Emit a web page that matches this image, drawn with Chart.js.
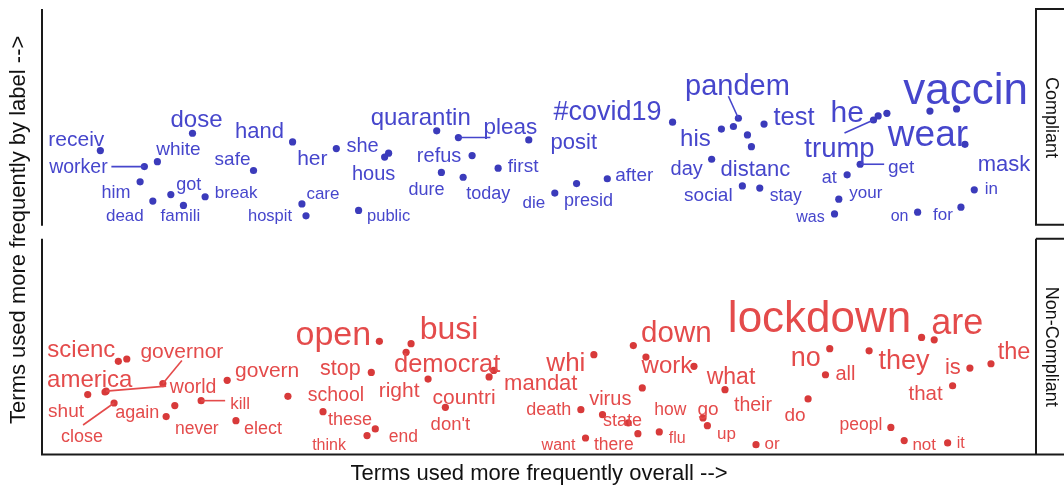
<!DOCTYPE html>
<html>
<head>
<meta charset="utf-8">
<script src="https://cdn.jsdelivr.net/npm/chart.js@4/dist/chart.umd.min.js"></script>
<style>
  html, body { margin: 0; padding: 0; background: #fff; }
</style>
</head>
<body>
<canvas id="termsChart" width="1064" height="487"></canvas>
<script>
// Terms and their positions (x: overall frequency, y: frequency by label)
const compliantTerms = ['receiv', 'worker', 'white', 'dose', 'him', 'got', 'break', 'dead', 'famili', 'safe',
  'hand', 'her', 'she', 'hous', 'care', 'hospit', 'public', 'quarantin', 'pleas', 'refus',
  'first', 'dure', 'today', 'posit', '#covid19', 'die', 'presid', 'after', 'pandem', 'his',
  '', '', 'distanc', 'test', 'day', 'social', 'stay', 'trump', 'he', '',
  'vaccin', 'wear', 'mask', 'get', 'at', 'your', 'was', 'on', 'for', 'in'];
const compliantX = [5.87, 10.30, 11.61, 15.14, 9.87, 12.96, 16.41, 11.15, 14.23, 21.28,
  25.21, 29.61, 34.87, 34.47, 26.15, 26.56, 31.85, 39.71, 41.89, 43.27,
  45.89, 40.18, 42.37, 48.97, 63.44, 51.59, 53.78, 56.87, 70.06, 68.35,
  69.56, 70.97, 71.37, 72.64, 67.37, 70.46, 72.21, 83.65, 84.12, 85.0,
  92.01, 89.33, 92.85, 82.31, 81.0, 80.16, 79.73, 88.09, 92.45, 93.79];
const compliantY = [34.7, 27.3, 29.6, 42.7, 20.3, 14.4, 13.4, 11.4, 9.4, 25.5,
  38.7, 35.6, 33.5, 31.7, 10.1, 4.6, 7.1, 43.8, 40.7, 32.4,
  26.6, 24.6, 22.4, 39.6, 47.8, 15.1, 19.5, 21.7, 49.6, 44.6,
  45.8, 41.9, 36.5, 46.9, 30.7, 18.4, 17.4, 48.8, 50.7, 51.9,
  53.9, 52.9, 37.6, 28.4, 23.5, 12.3, 5.5, 6.3, 8.6, 16.6];

const nonCompliantTerms = ['scienc', '', 'governor', 'america', 'world', 'shut', 'close', 'again', 'never', 'kill',
  'govern', 'elect', 'school', 'open', 'stop', 'these', 'think', 'end', 'busi', 'democrat',
  'right', 'countri', 'mandat', "don't", 'whi', 'down', 'work', 'their', 'virus', 'death',
  'state', 'how', 'want', 'there', 'flu', 'go', 'up', 'what', 'do', 'or',
  'lockdown', 'are', 'no', 'all', 'they', 'is', 'the', 'that', 'peopl', 'not', 'it'];
const nonCompliantX = [7.68, 8.53, 12.16, 4.60, 6.45, 6.34, 7.25, 12.49, 13.36, 16.01,
  18.63, 19.51, 24.74, 33.94, 33.13, 28.27, 32.70, 33.53, 37.13, 36.63,
  38.84, 44.98, 45.45, 40.58, 55.52, 59.49, 60.76, 65.59, 60.39, 54.21,
  56.39, 58.98, 54.68, 59.95, 62.10, 66.50, 66.94, 68.71, 77.07, 71.83,
  88.49, 89.76, 79.25, 78.82, 83.21, 93.35, 95.47, 91.61, 85.40, 86.74, 91.11];
const nonCompliantY = [43.2, 44.3, 32.9, 27.8, 29.4, 29.0, 23.9, 17.6, 22.7, 25.0,
  34.4, 15.7, 27.0, 52.5, 38.1, 19.9, 8.8, 11.9, 51.4, 47.4,
  35.0, 36.0, 39.0, 21.9, 46.3, 50.5, 45.2, 40.9, 30.9, 20.8,
  18.5, 14.7, 7.7, 9.7, 10.5, 17.0, 13.4, 30.1, 25.8, 4.6,
  54.3, 53.2, 49.1, 37.0, 48.1, 40.1, 42.1, 31.9, 12.6, 6.5, 5.4];

const panelNames = ['Compliant', 'Non-Compliant'];

// Label placement (repelled text): [dx, dy, font px, leader dx, leader dy]
const compliantLabelLayout = [
  [-24, -12, 21], [-66, 0, 19.5, -33, 0], [21, -13, 19], [4, -14, 24], [-24, 10, 18],
  [18, -11, 18], [31, -5, 17], [-28, 14, 17], [-3, 9, 17], [-21, -12, 19],
  [-33, -11, 22], [-24, 9, 21], [-26, -8, 20], [-11, 16, 20], [21, -11, 17],
  [-36, -1, 16.5], [30, 5, 16.5], [-16, -14, 24], [52, -11, 22.5, 32, 0], [-33, -1, 20],
  [25, -3, 19], [-15, 16, 18], [25, 15, 18], [45, 1, 22], [-65, -11, 27],
  [-21, 9, 17], [12, 16, 18], [27, -4, 19], [-1, -33, 29, -10, -22], [-26, 9, 24],
  [0, 0, 0], [0, 0, 0], [4, 22, 22], [30, -8, 25.5], [-25, 9, 20],
  [-34, 8, 19], [26, 7, 17.5], [-34, 28, 27.5, -29, 13], [-31, -4, 30], [0, 0, 0],
  [9, -19, 44], [-2, 23, 37], [39, 19, 22], [41, 2, 19, 24, 0], [-18, 2, 18],
  [27, -7, 17], [-24, 2, 16], [-18, 3, 16], [-18, 7, 17], [17, -2, 17]
];
const nonCompliantLabelLayout = [
  [-37, -12, 24], [0, 0, 0], [19, -33, 21, 19, -23], [2, -16, 24], [87, -5, 19.5, 60, -5],
  [-39, 18, 19], [-32, 33, 18, -31, 22], [-29, -5, 18], [22, 22, 17.5], [39, 2, 17, 24, 0],
  [40, -11, 21], [27, 7, 18], [48, -2, 19.5], [-46, -7, 34], [-31, -5, 21.5],
  [27, 7, 18], [-38, 8, 16], [28, 7, 17.5], [38, -15, 32], [41, 11, 25.5],
  [-29, 11, 21], [-25, 20, 21], [47, 12, 22], [5, 16, 18.5], [-28, 8, 26],
  [43, -13, 29.5], [21, 8, 24], [59, 38, 19.5], [-32, 10, 20], [-32, -1, 18],
  [20, 5, 18], [42, -14, 17.5], [-27, 6, 16], [-24, 10, 17.5], [18, 5, 16],
  [5, -10, 19], [19, 7, 17], [6, -13, 23], [-13, 15, 19], [16, -2, 17],
  [-102, -19, 44], [23, -17, 36], [-24, 8, 27], [20, -2, 20], [35, 9, 27],
  [-17, -2, 22], [23, -13, 23.5], [-27, 7, 20.5], [-30, -4, 17.5], [20, 3, 17], [13, -1, 16]
];

const FONT = '"Liberation Sans", Arial, Helvetica, sans-serif';
const blueText = '#4646cc', blueDot = '#3b3bbb';
const redText = '#e44b4b', redDot = '#d83a3a';

function toPoints(xs, ys) {
  return xs.map((x, i) => ({ x: x, y: ys[i] }));
}

// draws each term next to its point, with leader lines where the label was pushed away
const termLabels = {
  id: 'termLabels',
  afterDatasetsDraw(chart) {
    const ctx = chart.ctx;
    const sets = [
      { terms: compliantTerms, layout: compliantLabelLayout, color: blueText },
      { terms: nonCompliantTerms, layout: nonCompliantLabelLayout, color: redText }
    ];
    ctx.save();
    sets.forEach((s, di) => {
      const meta = chart.getDatasetMeta(di);
      meta.data.forEach((pt, i) => {
        const term = s.terms[i];
        if (!term) return;
        const l = s.layout[i];
        if (l.length > 3) {
          ctx.strokeStyle = s.color;
          ctx.lineWidth = 1.6;
          ctx.beginPath();
          ctx.moveTo(pt.x, pt.y);
          ctx.lineTo(pt.x + l[3], pt.y + l[4]);
          ctx.stroke();
        }
        ctx.fillStyle = s.color;
        ctx.font = l[2] + 'px ' + FONT;
        ctx.textAlign = 'center';
        ctx.textBaseline = 'middle';
        ctx.fillText(term, pt.x + l[0], pt.y + l[1] + 1.5);
      });
    });
    ctx.restore();
  },
  afterDraw(chart) {
    const ctx = chart.ctx;
    const top = chart.scales.yTop, bot = chart.scales.yBot;
    const left = chart.chartArea.left, right = chart.chartArea.right;
    ctx.save();
    ctx.strokeStyle = '#1a1a1a';
    ctx.lineWidth = 2;
    // top panel: left axis line only
    ctx.beginPath();
    ctx.moveTo(left, top.top);
    ctx.lineTo(left, top.bottom);
    ctx.stroke();
    // bottom panel: left, bottom, right
    ctx.beginPath();
    ctx.moveTo(left, bot.top);
    ctx.lineTo(left, bot.bottom);
    ctx.lineTo(chart.width, bot.bottom);
    ctx.moveTo(right, bot.top);
    ctx.lineTo(right, bot.bottom);
    ctx.stroke();
    // strip boxes
    ctx.beginPath();
    ctx.moveTo(chart.width + 2, top.top);
    ctx.lineTo(right, top.top);
    ctx.lineTo(right, top.bottom - 1);
    ctx.lineTo(chart.width + 2, top.bottom - 1);
    ctx.moveTo(chart.width + 2, bot.top);
    ctx.lineTo(right, bot.top);
    ctx.stroke();

    ctx.fillStyle = '#111';
    ctx.font = '18px ' + FONT;
    ctx.textAlign = 'center';
    ctx.textBaseline = 'middle';
    [[top, panelNames[0]], [bot, panelNames[1]]].forEach(([sc, name]) => {
      ctx.save();
      ctx.translate(1051, (sc.top + sc.bottom) / 2);
      ctx.rotate(Math.PI / 2);
      ctx.fillText(name, 0, 0);
      ctx.restore();
    });

    // y axis title spanning both panels
    ctx.save();
    ctx.font = '22px ' + FONT;
    ctx.translate(19, (top.top + bot.bottom) / 2 - 2);
    ctx.rotate(-Math.PI / 2);
    ctx.fillText('Terms used more frequently by label -->', 0, 0);
    ctx.restore();
    ctx.restore();
  }
};

Chart.defaults.font.family = FONT;

new Chart(document.getElementById('termsChart'), {
  type: 'scatter',
  data: {
    datasets: [
      {
        label: panelNames[0],
        data: toPoints(compliantX, compliantY),
        yAxisID: 'yTop',
        backgroundColor: blueDot,
        borderWidth: 0,
        pointRadius: 3.6
      },
      {
        label: panelNames[1],
        data: toPoints(nonCompliantX, nonCompliantY),
        yAxisID: 'yBot',
        backgroundColor: redDot,
        borderWidth: 0,
        pointRadius: 3.6
      }
    ]
  },
  options: {
    responsive: false,
    animation: false,
    layout: { padding: { left: 42, right: 28, top: 9, bottom: 0 } },
    plugins: {
      legend: { display: false },
      tooltip: { enabled: false }
    },
    scales: {
      x: {
        type: 'linear',
        min: 0,
        max: 100,
        grid: { display: false, drawTicks: false },
        border: { display: false },
        ticks: { display: false },
        title: {
          display: true,
          text: 'Terms used more frequently overall -->',
          color: '#111',
          font: { size: 22 },
          padding: { top: 6, bottom: 0 }
        }
      },
      // stacked panels are laid out bottom-up in definition order
      yBot: {
        type: 'linear', position: 'left', stack: 'panels', stackWeight: 216,
        min: 0, max: 100, display: false
      },
      yGap: {
        type: 'linear', position: 'left', stack: 'panels', stackWeight: 13,
        min: 0, max: 1, display: false
      },
      yTop: {
        type: 'linear', position: 'left', stack: 'panels', stackWeight: 217,
        min: 0, max: 100, display: false
      }
    }
  },
  plugins: [termLabels]
});
</script>
</body>
</html>
